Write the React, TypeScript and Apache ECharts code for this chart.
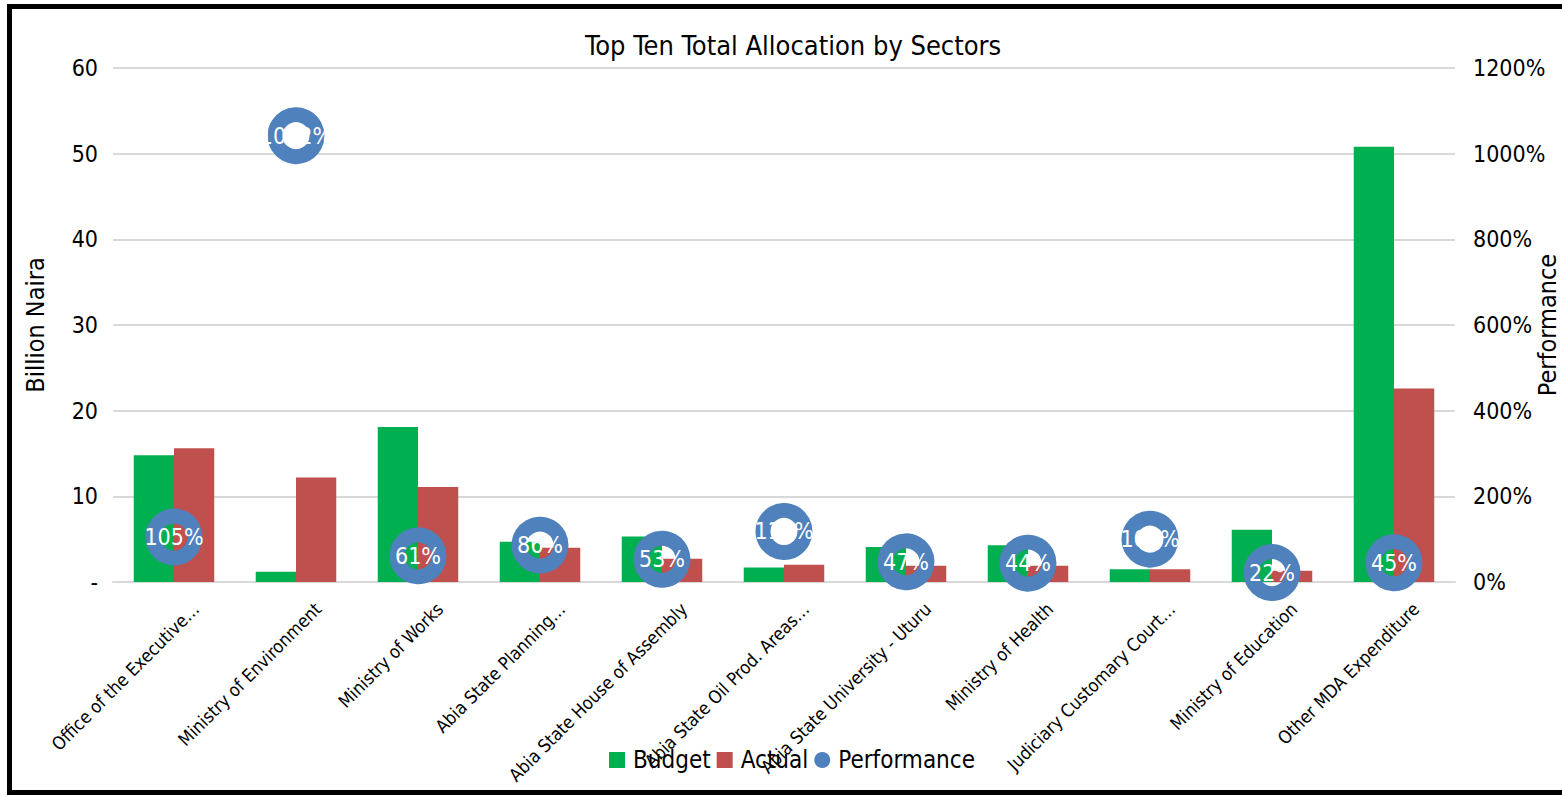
import React, { useEffect, useRef } from "react";
import * as echarts from "echarts";

const categories = [
  "Office of the Executive…",
  "Ministry of Environment",
  "Ministry of Works",
  "Abia State Planning…",
  "Abia State House of Assembly",
  "Abia State Oil Prod. Areas…",
  "Abia State University - Uturu",
  "Ministry of Health",
  "Judiciary Customary Court…",
  "Ministry of Education",
  "Other MDA Expenditure",
];
const budget = [14.8, 1.2, 18.1, 4.7, 5.3, 1.7, 4.1, 4.3, 1.5, 6.1, 50.8];
const actual = [15.6, 12.2, 11.1, 4.0, 2.7, 2.0, 1.9, 1.9, 1.5, 1.3, 22.6];
const performance = [105, 1042, 61, 86, 53, 118, 47, 44, 100, 22, 45];
const leftTicks = { min: 0, max: 60, interval: 10 };
const rightTicks = { min: 0, max: 1200, interval: 200 };

const FONT = "'DejaVu Sans Condensed', 'DejaVu Sans', sans-serif";

export default function App() {
  const ref = useRef<HTMLDivElement>(null);
  useEffect(() => {
    if (!ref.current) return;
    const chart = echarts.init(ref.current, undefined, { renderer: "svg" });
    chart.setOption({
      animation: false,
      textStyle: { fontFamily: FONT, color: "#000" },
      title: {
        text: "Top Ten Total Allocation by Sectors",
        left: 580,
        top: 27,
        textStyle: { fontFamily: FONT, fontSize: 27, fontWeight: "normal", color: "#000" },
      },
      legend: {
        left: 604,
        top: 743,
        itemWidth: 16,
        itemHeight: 16,
        itemGap: 6,
        textStyle: { fontFamily: FONT, fontSize: 24, color: "#000", padding: [0, 0, 0, 3] },
        data: [
          { name: "Budget", icon: "rect" },
          { name: "Actual", icon: "rect" },
          { name: "Performance", icon: "circle", itemStyle: { color: "#4f81bd", borderWidth: 0 } },
        ],
      },
      grid: { left: 113, right: 107, top: 68, bottom: 213, outerBoundsMode: "none", containLabel: false },
      xAxis: {
        type: "category",
        data: categories,
        axisLine: { lineStyle: { color: "#d9d9d9", width: 2 } },
        axisTick: { show: false },
        axisLabel: {
          interval: 0,
          rotate: 45,
          fontSize: 18,
          fontFamily: FONT,
          color: "#000",
          lineHeight: 62,
          verticalAlign: "top",
          margin: 2,
          hideOverlap: false,
        },
      },
      yAxis: [
        {
          type: "value",
          ...leftTicks,
          name: "Billion Naira",
          nameLocation: "middle",
          nameRotate: 90,
          nameGap: 65,
          nameMoveOverlap: false,
          nameTextStyle: { fontFamily: FONT, fontSize: 25, color: "#000" },
          axisLine: { show: false },
          axisTick: { show: false },
          axisLabel: {
            fontSize: 23,
            fontFamily: FONT,
            color: "#000",
            margin: 15,
            formatter: (v: number) => (v === 0 ? "-" : String(v)),
          },
          splitLine: { lineStyle: { color: "#d9d9d9", width: 2 } },
        },
        {
          type: "value",
          ...rightTicks,
          name: "Performance",
          nameLocation: "middle",
          nameRotate: 90,
          nameGap: 80,
          nameMoveOverlap: false,
          nameTextStyle: { fontFamily: FONT, fontSize: 25, color: "#000" },
          axisLine: { show: false },
          axisTick: { show: false },
          axisLabel: {
            fontSize: 23,
            fontFamily: FONT,
            color: "#000",
            margin: 18,
            formatter: (v: number) => v + "%",
          },
          splitLine: { show: false },
        },
      ],
      series: [
        {
          name: "Budget",
          type: "bar",
          data: budget,
          barGap: "0%",
          barCategoryGap: "34%",
          itemStyle: { color: "#00b050" },
        },
        {
          name: "Actual",
          type: "bar",
          data: actual,
          itemStyle: { color: "#c0504d" },
        },
        {
          name: "Performance",
          type: "scatter",
          yAxisIndex: 1,
          data: performance,
          symbol: "circle",
          symbolSize: 42,
          z: 5,
          itemStyle: { color: "rgba(0,0,0,0)", borderColor: "#4f81bd", borderWidth: 15, opacity: 1 },
          label: {
            show: true,
            position: "inside",
            color: "#fff",
            fontSize: 23,
            fontFamily: FONT,
            formatter: (p: any) => p.value + "%",
          },
        },
      ],
    });
    return () => chart.dispose();
  }, []);
  return (
    <div
      style={{
        position: "fixed",
        left: 0,
        top: 0,
        width: 1562,
        height: 795,
        background: "#fff",
        overflow: "hidden",
      }}
    >
      <div
        style={{
          position: "absolute",
          left: 7,
          top: 4,
          width: 1562,
          height: 791,
          borderLeft: "5px solid #000",
          borderTop: "5px solid #000",
          borderBottom: "5px solid #000",
          boxSizing: "border-box",
        }}
      />
      <div ref={ref} style={{ position: "absolute", left: 0, top: 0, width: 1562, height: 795 }} />
    </div>
  );
}
